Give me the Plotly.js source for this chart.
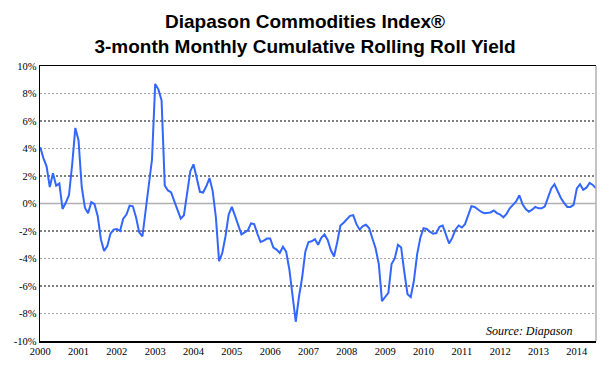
<!DOCTYPE html>
<html>
<head>
<meta charset="utf-8">
<script src="https://cdn.plot.ly/plotly-3.0.1.min.js"></script>
<style>html,body{margin:0;padding:0;background:#fff;}#chart{width:610px;height:375px;}</style>
</head>
<body>
<div id="chart"></div>
<script>
// Monthly roll yield (%) starting January 2000
const startYear = 2000;
const rollYield = [
  4.1, 3.3, 2.7, 1.2, 2.2, 1.3, 1.45, -0.4, 0.05, 0.6,
  2.8, 5.5, 4.6, 1.2, -0.3, -0.7, 0.1, -0.05, -0.9, -2.6,
  -3.45, -3.1, -2.2, -1.9, -1.85, -2.0, -1.1, -0.8, -0.15, -0.2,
  -1.0, -2.1, -2.4, -0.6, 1.3, 3.2, 8.7, 8.3, 7.5, 1.3,
  0.95, 0.8, 0.15, -0.55, -1.1, -0.85, 0.8, 2.35, 2.85, 1.75,
  0.85, 0.8, 1.25, 1.85, 0.9, -1.0, -4.2, -3.6, -2.4, -0.8,
  -0.25, -0.9, -1.6, -2.25, -2.1, -1.95, -1.45, -1.5, -2.2, -2.8,
  -2.7, -2.55, -2.55, -3.2, -3.35, -3.6, -3.15, -3.5, -4.8, -6.6,
  -8.6, -6.8, -5.4, -3.5, -2.8, -2.75, -2.6, -3.0, -2.5, -2.25,
  -2.65, -3.4, -3.85, -2.8, -1.6, -1.4, -1.15, -0.9, -0.85, -1.5,
  -1.9, -1.65, -1.55, -1.8, -2.55, -3.25, -4.4, -7.1, -6.8, -6.5,
  -4.4, -4.0, -3.0, -3.2, -5.0, -6.6, -6.8, -5.6, -3.7, -2.5,
  -1.8, -1.85, -2.05, -2.2, -2.15, -1.7, -1.6, -2.2, -2.9, -2.5,
  -1.9, -1.6, -1.75, -1.5, -0.8, -0.2, -0.25, -0.45, -0.6, -0.7,
  -0.7, -0.65, -0.5, -0.7, -0.8, -1.0, -0.75, -0.35, -0.1, 0.15,
  0.6, -0.05, -0.4, -0.6, -0.45, -0.25, -0.35, -0.35, -0.2, 0.5,
  1.1, 1.4, 0.9, 0.4, 0.05, -0.25, -0.25, -0.1, 1.1, 1.4,
  1.0, 1.15, 1.5, 1.35, 1.1
];
const yearTicks = [2000,2001,2002,2003,2004,2005,2006,2007,2008,2009,2010,2011,2012,2013,2014];
const yTicks = [-10,-8,-6,-4,-2,0,2,4,6,8,10];
const yTickText = yTicks.map(v => v + '%');
const gridBlack = [-6,-2,2,6];
const gridGray = [-8,-4,4,8];
const titleLines = ['Diapason Commodities Index®', '3-month Monthly Cumulative Rolling Roll Yield'];
const sourceText = 'Source: Diapason';

const xVals = rollYield.map((v, i) => startYear + i / 12);
const serif = "Liberation Serif";

const shapes = [];
gridBlack.forEach(v => shapes.push({type:'line', xref:'paper', x0:0, x1:1, yref:'y', y0:v, y1:v,
  line:{color:'#000', width:1, dash:'2px,2px'}, layer:'below'}));
gridGray.forEach(v => shapes.push({type:'line', xref:'paper', x0:0, x1:1, yref:'y', y0:v, y1:v,
  line:{color:'#a8a8a8', width:1, dash:'2px,2px'}, layer:'below'}));
shapes.push({type:'line', xref:'paper', x0:0, x1:1, yref:'y', y0:0, y1:0,
  line:{color:'#b0b0b0', width:1.5}, layer:'below'});
shapes.push({type:'line', xref:'paper', x0:1, x1:1, yref:'paper', y0:0, y1:1,
  line:{color:'#b0b0b0', width:1.5}});

const trace = {
  x: xVals, y: rollYield, type:'scatter', mode:'lines',
  line:{color:'#3366ff', width:2}, hoverinfo:'skip'
};

const layout = {
  width:610, height:375,
  margin:{l:40, r:14, t:66, b:34},
  paper_bgcolor:'#fff', plot_bgcolor:'#fff',
  showlegend:false,
  title:{text:'<b>' + titleLines[0] + '</b><br><b>' + titleLines[1] + '</b>',
    font:{family:"Liberation Sans", size:19, color:'#000'},
    x:0.5, xref:'container', xanchor:'center', y:0.925, yref:'container', yanchor:'top'},
  xaxis:{range:[1999.995, 2014.5], tickvals:yearTicks, ticktext:yearTicks.map(String),
    showgrid:false, zeroline:false, showline:true, linecolor:'#000', linewidth:1.5, mirror:true,
    ticks:'', tickfont:{family:serif, size:10.5, color:'#000'}},
  yaxis:{range:[-10,10], tickvals:yTicks, ticktext:yTickText, showgrid:false, zeroline:false,
    showline:true, linecolor:'#000', linewidth:1.5, ticks:'', ticklen:0,
    tickfont:{family:serif, size:10.5, color:'#000'}},
  shapes: shapes,
  annotations:[{text:'<i>' + sourceText + '</i>', xref:'paper', yref:'paper', x:0.962, y:0.036,
    xanchor:'right', yanchor:'middle', showarrow:false,
    font:{family:serif, size:12, color:'#000'}}]
};

Plotly.newPlot('chart', [trace], layout, {displayModeBar:false, staticPlot:true});
</script>
</body>
</html>
